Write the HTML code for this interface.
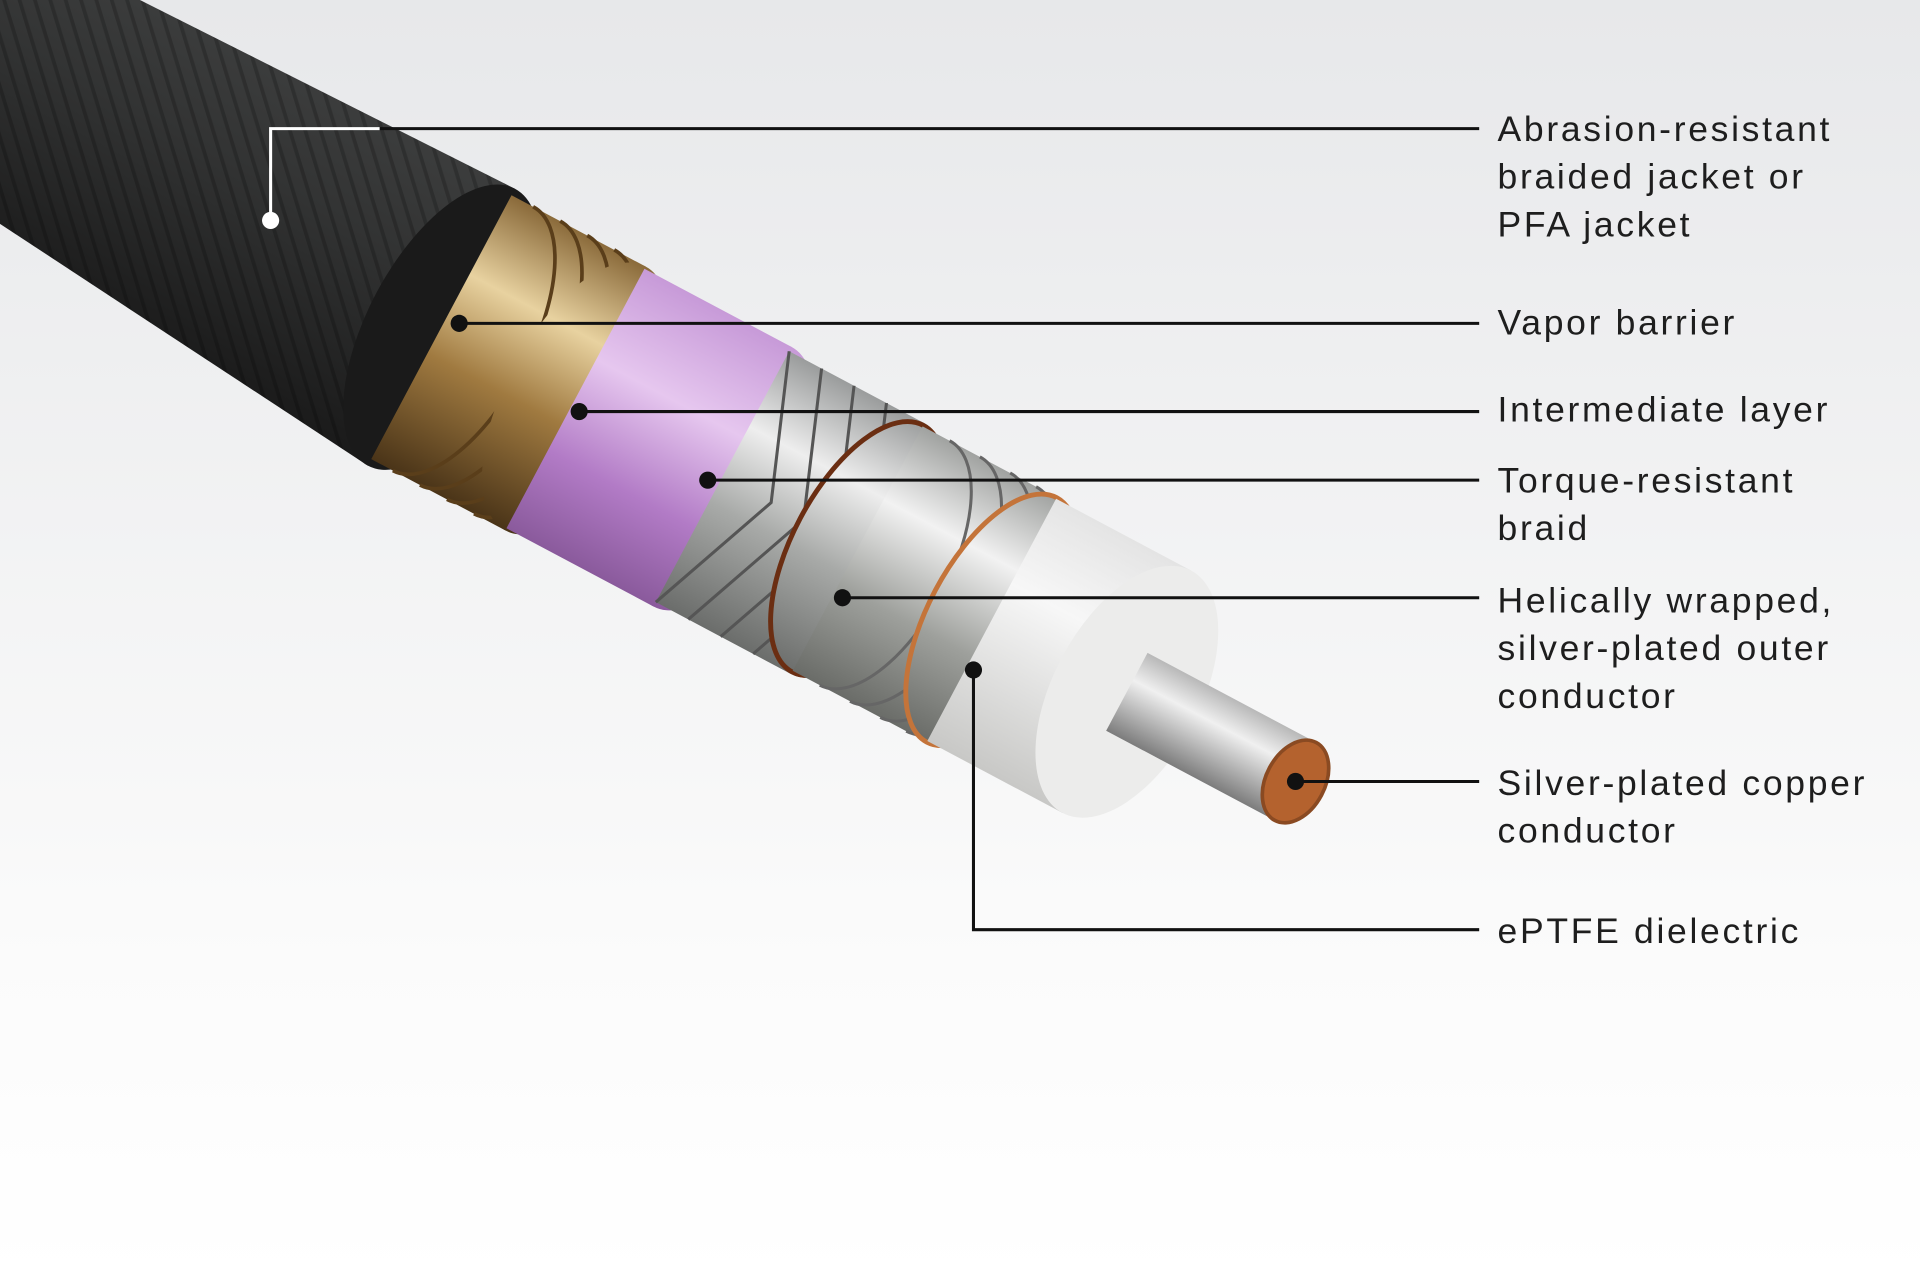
<!DOCTYPE html>
<html><head><meta charset="utf-8"><style>
html,body{margin:0;padding:0;width:1920px;height:1280px;overflow:hidden;background:#fff}
svg{display:block}
text{font-family:"Liberation Sans",sans-serif;font-size:29px;letter-spacing:2.2px;fill:#1e1e1e}
</style></head><body>
<svg width="1920" height="1280" viewBox="0 0 1568 1045" preserveAspectRatio="none">
<defs>
<linearGradient id="bg" x1="0" y1="0" x2="0" y2="1">
<stop offset="0" stop-color="#e7e8ea"/><stop offset="0.75" stop-color="#fbfbfb"/><stop offset="1" stop-color="#ffffff"/></linearGradient>
<linearGradient id="gJ" gradientUnits="userSpaceOnUse" x1="0" y1="-128" x2="0" y2="128">
<stop offset="0" stop-color="#3c3d3d"/><stop offset="0.35" stop-color="#323333"/><stop offset="1" stop-color="#1a1a1a"/></linearGradient>
<linearGradient id="gV" gradientUnits="userSpaceOnUse" x1="0" y1="-122" x2="0" y2="122">
<stop offset="0" stop-color="#8a6a3a"/><stop offset="0.3" stop-color="#e8d2a0"/><stop offset="0.6" stop-color="#a07a40"/><stop offset="1" stop-color="#4a3418"/></linearGradient>
<linearGradient id="gP" gradientUnits="userSpaceOnUse" x1="0" y1="-120" x2="0" y2="120">
<stop offset="0" stop-color="#c79ad8"/><stop offset="0.35" stop-color="#e6c7ef"/><stop offset="0.7" stop-color="#b27bc6"/><stop offset="1" stop-color="#8a5a9c"/></linearGradient>
<linearGradient id="gB" gradientUnits="userSpaceOnUse" x1="0" y1="-116" x2="0" y2="116">
<stop offset="0" stop-color="#9a9c9c"/><stop offset="0.3" stop-color="#eeeeee"/><stop offset="0.6" stop-color="#a8aaa8"/><stop offset="1" stop-color="#6b6d6b"/></linearGradient>
<linearGradient id="gH" gradientUnits="userSpaceOnUse" x1="0" y1="-113" x2="0" y2="113">
<stop offset="0" stop-color="#a0a2a0"/><stop offset="0.3" stop-color="#f2f2f2"/><stop offset="0.65" stop-color="#9ea09c"/><stop offset="1" stop-color="#6a6c68"/></linearGradient>
<linearGradient id="gD" gradientUnits="userSpaceOnUse" x1="0" y1="-112" x2="0" y2="112">
<stop offset="0" stop-color="#e4e4e4"/><stop offset="0.35" stop-color="#f7f7f7"/><stop offset="1" stop-color="#c8c8c6"/></linearGradient>
<linearGradient id="gC" gradientUnits="userSpaceOnUse" x1="0" y1="-36" x2="0" y2="36">
<stop offset="0" stop-color="#b8b8b8"/><stop offset="0.35" stop-color="#f0f0f0"/><stop offset="1" stop-color="#7c7c7c"/></linearGradient>
<pattern id="weave" width="24" height="24" patternUnits="userSpaceOnUse" patternTransform="rotate(45)">
<rect width="24" height="24" fill="none"/><path d="M0 6H24M0 18H24" stroke="#000" stroke-opacity="0.2" stroke-width="3"/></pattern>
</defs>
<rect width="1568" height="1045" fill="url(#bg)"/>
<g transform="translate(1058,638) rotate(28)">
<path d="M-790 -128 L-1500 -112 L-1500 62 L-790 128 Z" fill="url(#gJ)"/>
<path d="M-790 -128 L-1500 -112 L-1500 62 L-790 128 Z" fill="url(#weave)"/>
<ellipse cx="-790" cy="0" rx="60" ry="128" fill="#1a1a1a"/>
<rect x="-790" y="-122" width="124" height="244" fill="url(#gV)"/>
<path d="M-770 -122 a55 122 0 0 1 0 244 M-745 -122 a55 122 0 0 1 0 244 M-720 -122 a55 122 0 0 1 0 244 M-695 -122 a55 122 0 0 1 0 244" fill="none" stroke="#5a3e1a" stroke-width="3"/>
<ellipse cx="-666" cy="0" rx="57" ry="122" fill="url(#gV)"/>
<rect x="-666" y="-120" width="136" height="240" fill="url(#gP)"/>
<ellipse cx="-530" cy="0" rx="56" ry="120" fill="url(#gP)"/>
<rect x="-530" y="-116" width="125" height="232" fill="url(#gB)"/>
<path d="M-530 -116 L-485 0 L-530 116 M-500 -116 L-455 0 L-500 116 M-470 -116 L-425 0 L-470 116 M-440 -116 L-395 0 L-440 116" fill="none" stroke="#555" stroke-width="2.5"/>
<ellipse cx="-405" cy="0" rx="54" ry="116" fill="url(#gB)"/>
<ellipse cx="-405" cy="0" rx="53" ry="114" fill="none" stroke="#6b2e12" stroke-width="4"/>
<rect x="-405" y="-113" width="124" height="226" fill="url(#gH)"/>
<path d="M-380 -113 a53 113 0 0 1 0 226 M-352 -113 a53 113 0 0 1 0 226 M-324 -113 a53 113 0 0 1 0 226 M-300 -113 a53 113 0 0 1 0 226" fill="none" stroke="#666" stroke-width="2.5"/>
<ellipse cx="-281" cy="0" rx="53" ry="113" fill="url(#gH)"/>
<ellipse cx="-281" cy="0" rx="52" ry="113" fill="none" stroke="#c4743a" stroke-width="4"/>
<rect x="-281" y="-112" width="125" height="224" fill="url(#gD)"/>
<ellipse cx="-156" cy="0" rx="60" ry="112" fill="#ececeb"/>
<rect x="-156" y="-36" width="156" height="72" fill="url(#gC)"/>
<ellipse cx="0" cy="0" rx="24" ry="36" fill="#b4622e" stroke="#8a4a22" stroke-width="3"/>
</g>
<g stroke="#111" stroke-width="2.5" fill="none">
<path d="M310 105H1208"/>
<path d="M375 264H1208"/>
<path d="M473 336H1208"/>
<path d="M578 392H1208"/>
<path d="M688 488H1208"/>
<path d="M1058 638H1208"/>
<path d="M795 547V759H1208"/>
</g>
<path d="M221 180V105H310" stroke="#fff" stroke-width="2.5" fill="none"/>
<circle cx="221" cy="180" r="7" fill="#fff"/>
<g fill="#111">
<circle cx="375" cy="264" r="7"/><circle cx="473" cy="336" r="7"/><circle cx="578" cy="392" r="7"/>
<circle cx="688" cy="488" r="7"/><circle cx="1058" cy="638" r="7"/><circle cx="795" cy="547" r="7"/>
</g>
<text x="1223" y="115">Abrasion-resistant</text>
<text x="1223" y="154">braided jacket or</text>
<text x="1223" y="193">PFA jacket</text>
<text x="1223" y="273">Vapor barrier</text>
<text x="1223" y="344">Intermediate layer</text>
<text x="1223" y="402">Torque-resistant</text>
<text x="1223" y="441">braid</text>
<text x="1223" y="500">Helically wrapped,</text>
<text x="1223" y="539">silver-plated outer</text>
<text x="1223" y="578">conductor</text>
<text x="1223" y="649">Silver-plated copper</text>
<text x="1223" y="688">conductor</text>
<text x="1223" y="770">ePTFE dielectric</text>
</svg>
</body></html>
